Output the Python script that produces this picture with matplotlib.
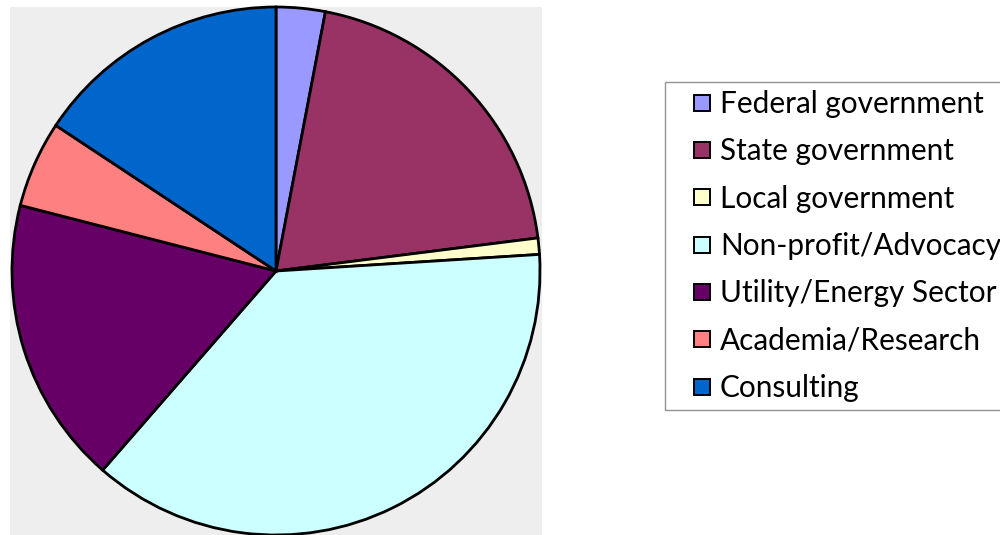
import matplotlib
matplotlib.use("Agg")
import matplotlib.pyplot as plt
from matplotlib.lines import Line2D

categories = ["Federal government", "State government", "Local government",
              "Non-profit/Advocacy", "Utility/Energy Sector",
              "Academia/Research", "Consulting"]
shares = [3, 20, 1, 37.4, 17.6, 5.3, 15.7]
colors = ["#9999FF", "#993366", "#FFFFCC", "#CCFFFF", "#660066", "#FF8080", "#0066CC"]

W, H = 1000, 535
fig = plt.figure(figsize=(W / 100, H / 100), dpi=100)
fig.patch.set_facecolor("white")

# plot area (grey) in pixel units
x0, x1, ytop, ybot = 10, 542, 7, 535
ax = fig.add_axes([x0 / W, 1 - ybot / H, (x1 - x0) / W, (ybot - ytop) / H])
ax.set_facecolor("#EEEEEE")
cx, cy, r = 276, 271, 264
ax.pie(shares, colors=colors, startangle=90, counterclock=False, radius=r,
       center=(0, 0), frame=True,
       wedgeprops=dict(edgecolor="black", linewidth=2.0))
ax.set_xlim(x0 - cx, x1 - cx)
ax.set_ylim(cy - ybot, cy - ytop)
ax.set_aspect("auto")
ax.set_xticks([])
ax.set_yticks([])
for s in ax.spines.values():
    s.set_visible(False)

fs = 21.4
handles = [Line2D([], [], linestyle="none", marker="s", markersize=12.2,
                  markerfacecolor=c, markeredgecolor="black",
                  markeredgewidth=1.4, label=l)
           for c, l in zip(colors, categories)]
leg = fig.legend(handles=handles, loc="upper left",
                 bbox_to_anchor=(665 / W, 1 - 82 / H),
                 prop={"family": "Lato", "size": fs},
                 handlelength=1.95, handletextpad=-0.37,
                 labelspacing=0.65, borderpad=0.27, borderaxespad=0,
                 fancybox=False, frameon=True)
leg.get_frame().set_edgecolor("#777777")
leg.get_frame().set_linewidth(1.0)

fig.savefig("out.png", dpi=100)
